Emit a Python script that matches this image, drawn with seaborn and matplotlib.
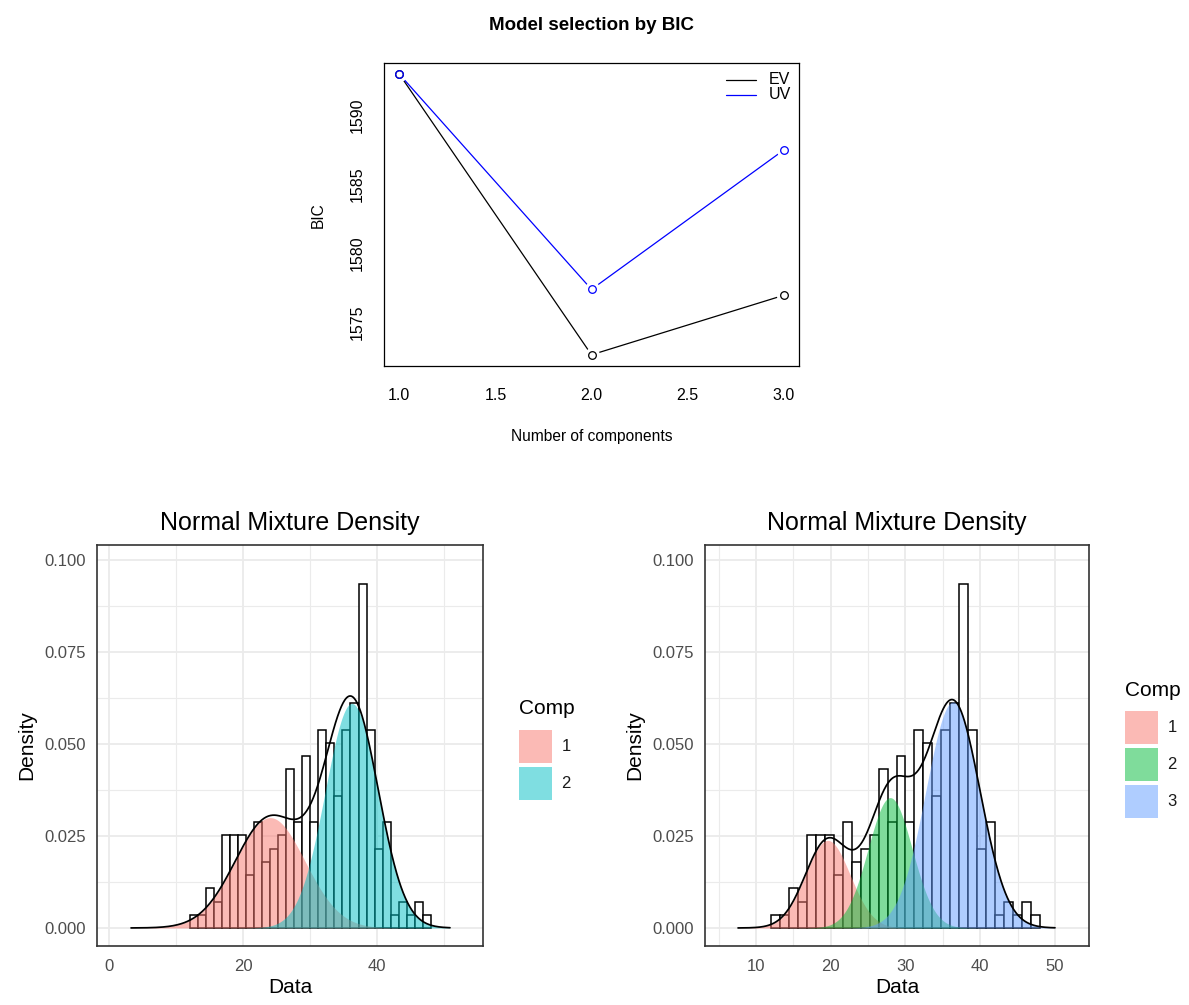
import numpy as np
import pandas as pd
import matplotlib
matplotlib.use("Agg")
import matplotlib.pyplot as plt
import seaborn as sns
from matplotlib.patches import Rectangle

# ---------------- data ----------------
# BIC model selection
n_components = [1, 2, 3]
bic_ev = [1592.95, 1572.66, 1576.96]
bic_uv = [1592.95, 1577.39, 1587.46]

# histogram of the data (30 bins of width 1.2 starting at 12.0)
bin_start = 12.0
bin_width = 1.2
hist_counts = [1, 1, 3, 2, 7, 7, 7, 4, 8, 5, 6, 7, 12, 8, 13, 8, 15, 14, 10, 15,
               17, 26, 15, 6, 8, 1, 2, 1, 2, 1]

# two-component normal mixture
mix2_lambda = [0.391, 0.609]
mix2_mu = [24.0, 36.2]
mix2_sigma = [5.2, 3.98]
mix2_range = [3.24, 50.85]

# three-component normal mixture
mix3_lambda = [0.179, 0.262, 0.559]
mix3_mu = [19.6, 27.95, 36.35]
mix3_sigma = [3.0, 2.95, 3.63]
mix3_range = [7.6, 50.0]

comp_labels2 = ["1", "2"]
comp_labels3 = ["1", "2", "3"]
colors2 = ["#F8766D", "#00BFC4"]
colors3 = ["#F8766D", "#00BA38", "#619CFF"]

# ---------------- style ----------------
sns.set_theme(style="white")
plt.rcParams["font.family"] = ["Liberation Sans", "DejaVu Sans"]

W, H = 1189, 1005
fig = plt.figure(figsize=(W / 100, H / 100), dpi=100)
fig.patch.set_facecolor("white")


def ax_px(l, t, r, b):
    return fig.add_axes([l / W, 1 - b / H, (r - l) / W, (b - t) / H])


def fx(px):
    return px / W


def fy(py):
    return 1 - py / H


# ---------------- top: BIC plot (R base style) ----------------
ax0 = ax_px(384, 63, 799, 366)
ax0.set_facecolor("white")
bic_df = pd.DataFrame({
    "k": n_components * 2,
    "BIC": bic_ev + bic_uv,
    "model": ["EV"] * 3 + ["UV"] * 3,
})
for name, col in [("EV", "black"), ("UV", "blue")]:
    sub = bic_df[bic_df["model"] == name]
    sns.lineplot(data=sub, x="k", y="BIC", color=col, lw=0.9, ax=ax0,
                 legend=False, estimator=None, zorder=2)
    ax0.plot(sub["k"], sub["BIC"], ls="none", marker="o", ms=11, mfc="white",
             mec="none", zorder=3)
    ax0.plot(sub["k"], sub["BIC"], ls="none", marker="o", ms=5.5, mfc="none",
             mec=col, mew=0.9, zorder=4)

ax0.set_xlim(0.92, 3.08)
ax0.set_ylim(1571.85, 1593.76)
ax0.set_xticks([1.0, 1.5, 2.0, 2.5, 3.0])
ax0.set_xticklabels(["1.0", "1.5", "2.0", "2.5", "3.0"])
ax0.set_yticks([1575, 1580, 1585, 1590])
ax0.set_yticklabels(["1575", "1580", "1585", "1590"], rotation=90, va="center")
ax0.tick_params(axis="both", direction="out", length=5, width=0.8,
                labelsize=11.5, colors="black")
ax0.tick_params(axis="x", pad=11)
ax0.tick_params(axis="y", pad=9)
for sp in ax0.spines.values():
    sp.set_color("black")
    sp.set_linewidth(0.9)
ax0.set_xlabel("")
ax0.set_ylabel("")
fig.text(fx(591.5), fy(26), "Model selection by BIC", ha="center", va="center",
         fontsize=13.5, fontweight="bold", color="black")
fig.text(fx(591.5), fy(436), "Number of components", ha="center", va="center",
         fontsize=11.2, color="black")
fig.text(fx(318), fy(215), "BIC", ha="center", va="center", rotation=90,
         fontsize=11.2, color="black")
# legend (no box)
ax0.plot([2.70, 2.855], [1592.55, 1592.55], color="black", lw=0.9)
ax0.plot([2.70, 2.855], [1591.47, 1591.47], color="blue", lw=0.9)
ax0.text(2.92, 1592.55, "EV", fontsize=11.5, va="center", ha="left", color="black")
ax0.text(2.92, 1591.47, "UV", fontsize=11.5, va="center", ha="left", color="black")

# ---------------- bottom panels (ggplot theme_bw style) ----------------
centers = bin_start + bin_width * (np.arange(len(hist_counts)) + 0.5)
hist_df = pd.DataFrame({"value": centers, "count": hist_counts})
bin_end = bin_start + bin_width * len(hist_counts)

GRID = "#EBEBEB"
BORDER = "#333333"
TICKTXT = "#4D4D4D"


def mixture_panel(ax, lam, mu, sig, rng, colors, xlim, xmajor, xminor):
    ax.set_facecolor("white")
    sns.histplot(data=hist_df, x="value", weights="count", binwidth=bin_width,
                 binrange=(bin_start, bin_end), stat="density",
                 facecolor="white", edgecolor="black", linewidth=1.1, ax=ax,
                 zorder=2)
    x = np.linspace(rng[0], rng[1], 600)
    total = np.zeros_like(x)
    for l, m, s, c in zip(lam, mu, sig, colors):
        y = l * np.exp(-0.5 * ((x - m) / s) ** 2) / (s * np.sqrt(2 * np.pi))
        ax.fill_between(x, 0, y, color=c, alpha=0.5, lw=0, zorder=3)
        total += y
    sns.lineplot(x=x, y=total, color="black", lw=1.25, ax=ax, estimator=None,
                 zorder=4)
    ax.set_xlim(*xlim)
    ax.set_ylim(-0.0049, 0.1041)
    ax.set_xticks(xmajor)
    ax.set_xticklabels([str(v) for v in xmajor])
    ax.set_xticks(xminor, minor=True)
    yt = [0.0, 0.025, 0.05, 0.075, 0.1]
    ax.set_yticks(yt)
    ax.set_yticklabels(["0.000", "0.025", "0.050", "0.075", "0.100"])
    ax.set_yticks([0.0125, 0.0375, 0.0625, 0.0875], minor=True)
    ax.set_axisbelow(True)
    ax.grid(which="major", color=GRID, lw=1.3)
    ax.grid(which="minor", color=GRID, lw=0.8)
    ax.tick_params(which="major", direction="out", length=4, width=1.0,
                   color=BORDER, labelcolor=TICKTXT, labelsize=12)
    ax.tick_params(axis="x", which="major", pad=5)
    ax.tick_params(axis="y", which="major", pad=4)
    ax.tick_params(which="minor", length=0)
    for sp in ax.spines.values():
        sp.set_color(BORDER)
        sp.set_linewidth(1.2)
    ax.set_xlabel("Data", fontsize=15, color="black", labelpad=3)
    ax.set_ylabel("Density", fontsize=15, color="black", labelpad=6)
    ax.set_title("Normal Mixture Density", fontsize=18, color="black", pad=11)


def legend_block(left_px, title_y, labels, colors):
    fig.text(fx(left_px), fy(title_y), "Comp", fontsize=15, ha="left",
             va="center", color="black")
    top = title_y + 21
    for i, (lab, c) in enumerate(zip(labels, colors)):
        y0 = top + i * 37
        fig.patches.append(Rectangle((fx(left_px), fy(y0 + 33)), 33 / W, 33 / H,
                                     transform=fig.transFigure, facecolor=c,
                                     alpha=0.5, edgecolor="none"))
        fig.text(fx(left_px + 47), fy(y0 + 16.5), lab, fontsize=12, ha="center",
                 va="center", color="#1A1A1A")


ax1 = ax_px(97, 545, 483, 946)
mixture_panel(ax1, mix2_lambda, mix2_mu, mix2_sigma, mix2_range, colors2,
              (-1.84, 55.78), [0, 20, 40], [10, 30, 50])
legend_block(519, 708.5, comp_labels2, colors2)

ax2 = ax_px(705, 545, 1089, 946)
mixture_panel(ax2, mix3_lambda, mix3_mu, mix3_sigma, mix3_range, colors3,
              (3.18, 54.55), [10, 20, 30, 40, 50], [5, 15, 25, 35, 45])
legend_block(1125, 690, comp_labels3, colors3)

fig.savefig("out.png", dpi=100, facecolor="white")
